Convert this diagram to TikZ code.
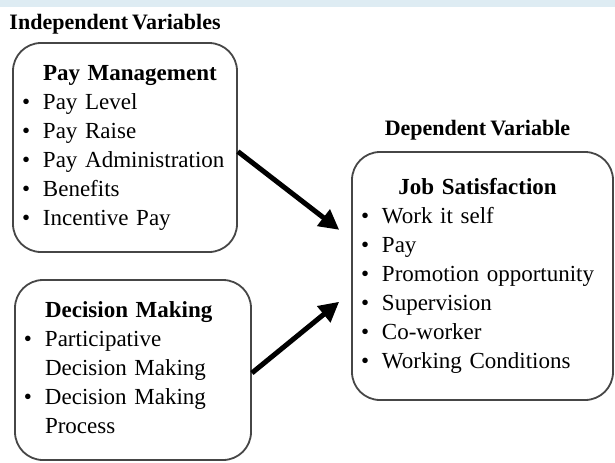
\documentclass[tikz,border=0pt]{standalone}
\usepackage{fontspec}
\setmainfont[WordSpace=0.75]{Liberation Serif}
\usetikzlibrary{positioning,arrows.meta}

\definecolor{boxgray}{RGB}{70,70,70}
\definecolor{bandblue}{RGB}{222,236,243}
\newcommand{\itm}{\makebox[10.5pt][l]{\textbullet}}

\tikzset{
  box/.style={draw=boxgray, line width=0.9pt, rounded corners=14pt, align=left,
    inner xsep=4.5pt, inner ysep=0pt, font=\fontsize{11.5}{14.5}\selectfont},
  head/.style={font=\bfseries\fontsize{11}{13}\selectfont, inner sep=0pt},
  link/.style={line width=2.5pt, -{Triangle[length=10pt,width=10pt]}}
}

\begin{document}
\begin{tikzpicture}[x=0.5pt,y=-0.5pt]
\useasboundingbox (0,0) rectangle (615,462);
\fill[bandblue] (0,0) rectangle (615,7);

\node[box, text width=103pt, minimum height=104.5pt] (pay) at (125,147.5) {%
\begin{tabular}{@{}l@{}l@{}}
 & \textbf{Pay Management}\\
\itm & Pay Level\\
\itm & Pay Raise\\
\itm & Pay Administration\\
\itm & Benefits\\
\itm & Incentive Pay
\end{tabular}};
\node[box, text width=109pt, minimum height=90pt] (dec) at (133,370) {%
\begin{tabular}{@{}l@{}l@{}}
 & \textbf{Decision Making}\\
\itm & Participative\\
 & Decision Making\\
\itm & Decision Making\\
 & Process
\end{tabular}};
\node[box, text width=121.5pt, minimum height=124pt] (sat) at (482.5,276) {%
\begin{tabular}{@{}l@{}l@{}}
\multicolumn{2}{c}{\textbf{Job Satisfaction}}\\
\itm & Work it self\\
\itm & Pay\\
\itm & Promotion opportunity\\
\itm & Supervision\\
\itm & Co-worker\\
\itm & Working Conditions
\end{tabular}};

\node[head, above=4pt of pay.north west, anchor=south west, xshift=-1.5pt] (indep) {Independent Variables};
\node[head, above=5.5pt of sat, xshift=-2.5pt] (dep) {Dependent Variable};

\draw[link, shorten >=7.5pt] ([yshift=-2pt]pay.east) -- ([yshift=18.5pt]sat.west);
\draw[link, shorten >=7.7pt] ([yshift=-1.5pt]dec.east) -- ([yshift=-8pt]sat.west);
\end{tikzpicture}
\end{document}
